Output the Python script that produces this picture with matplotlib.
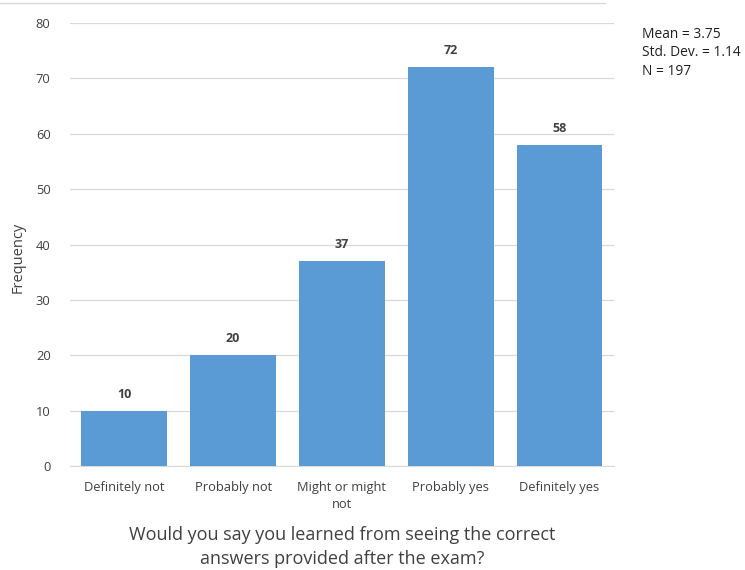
import matplotlib
matplotlib.use("Agg")
import matplotlib.pyplot as plt

categories = ["Definitely not", "Probably not", "Might or might\nnot", "Probably yes", "Definitely yes"]
values = [10, 20, 37, 72, 58]
yticks = [0, 10, 20, 30, 40, 50, 60, 70, 80]
stats_text = "Mean = 3.75\nStd. Dev. = 1.14\nN = 197"

plt.rcParams['font.family'] = ['Open Sans', 'DejaVu Sans']

fig = plt.figure(figsize=(7.45, 5.70), dpi=100)
ax = fig.add_axes([0.094, 0.1825, 0.730, 0.7771])

x = range(len(categories))
bars = ax.bar(x, values, width=0.79, color="#5B9BD5", zorder=3)
for xi, v in zip(x, values):
    ax.text(xi, v + 1.8, str(v), ha="center", va="bottom", fontsize=9, fontweight="bold", color="#404040")

ax.set_xlim(-0.5, len(categories) - 0.5)
ax.set_ylim(0, 80)
ax.set_yticks(yticks)
ax.set_xticks(list(x))
ax.set_xticklabels(categories, fontsize=9.3, color="#404040", linespacing=1.35)
ax.tick_params(axis="both", length=0, colors="#404040")
ax.tick_params(axis="y", pad=14, labelsize=9.3)
ax.tick_params(axis="x", pad=11)
ax.grid(axis="y", color="#D9D9D9", linewidth=0.9, zorder=0)
for s in ["top", "right", "left"]:
    ax.spines[s].set_visible(False)
ax.spines["bottom"].set_color("#D9D9D9")

ax.set_ylabel("Frequency", fontsize=10.5, color="#404040")
ax.yaxis.set_label_coords(-52 / 544, (466 - 257) / 443)
ax.yaxis.label.set_va("center")

ax.set_xlabel("Would you say you learned from seeing the correct\nanswers provided after the exam?",
              fontsize=13, color="#404040", labelpad=11, linespacing=1.4)

fig.text(642 / 745, 1 - 27 / 570, stats_text, ha="left", va="top", fontsize=9.9,
         color="#202020", linespacing=1.3)

fig.add_artist(plt.Line2D([0, 605 / 745], [1 - 3 / 570, 1 - 3 / 570], color="#D9D9D9", linewidth=1))

fig.savefig("out.png", dpi=100, facecolor="white")
